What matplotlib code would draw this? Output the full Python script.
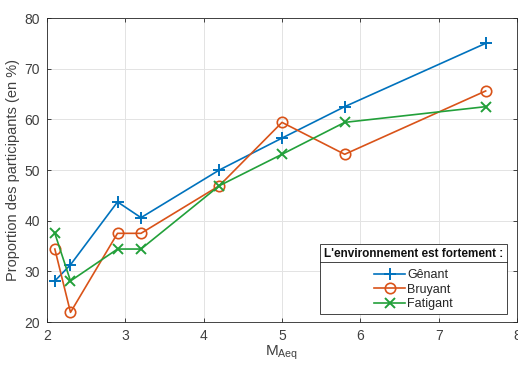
import matplotlib
matplotlib.use('Agg')
import matplotlib.pyplot as plt
from matplotlib.lines import Line2D

# ---- Data ----
x_aeq    = [2.1, 2.3, 2.9, 3.2, 4.2, 5.0, 5.8, 7.6]
genant   = [28.1, 31.3, 43.7, 40.6, 50.0, 56.3, 62.5, 75.0]
bruyant  = [34.4, 21.9, 37.5, 37.5, 46.9, 59.4, 53.1, 65.6]
fatigant = [37.5, 28.1, 34.4, 34.4, 46.9, 53.1, 59.4, 62.5]
labels   = ['Gênant', 'Bruyant', 'Fatigant']

plt.rcParams['font.family'] = ['Liberation Sans', 'DejaVu Sans']
plt.rcParams['mathtext.fontset'] = 'custom'
plt.rcParams['mathtext.rm'] = 'Liberation Sans'

fig = plt.figure(figsize=(5.18, 3.65), dpi=100)
ax = fig.add_axes([47 / 518, 1 - 322 / 365, 470 / 518, 304 / 365])

c_blue, c_orange, c_green = '#0072BD', '#D95319', '#22A03A'
txt = '#404040'
ax.plot(x_aeq, genant, '-', color=c_blue, lw=1.2, marker='+', ms=9, mew=1.4,
        label=labels[0])
ax.plot(x_aeq, bruyant, '-', color=c_orange, lw=1.2, marker='o', ms=7.5,
        mfc='none', mew=1.2, label=labels[1])
ax.plot(x_aeq, fatigant, '-', color=c_green, lw=1.2, marker='x', ms=6.5,
        mew=1.4, label=labels[2])

ax.set_xlim(2, 8)
ax.set_ylim(20, 80)
ax.set_xticks(range(2, 9))
ax.set_yticks(range(20, 81, 10))
ax.grid(True, color='#e3e3e3', lw=0.7)
ax.set_axisbelow(True)
ax.tick_params(direction='in', top=True, right=True, length=3, width=0.6,
               labelsize=10, color='#262626', labelcolor=txt, pad=5)
for s in ax.spines.values():
    s.set_color('#262626')
    s.set_linewidth(0.6)

ax.set_ylabel('Proportion des participants (en %)', fontsize=10.5, color=txt,
              labelpad=3)
ax.set_xlabel(r'M$_{\mathrm{Aeq}}$', fontsize=11, color=txt, labelpad=0.5)

leg = ax.legend(loc='lower right', bbox_to_anchor=(0.9785, 0.026),
                title="L'environnement est fortement :",
                title_fontproperties={'weight': 'bold', 'size': 8.5},
                fontsize=9, frameon=True, fancybox=False, edgecolor='#262626',
                framealpha=1, handlelength=2.5, handletextpad=0.15,
                labelspacing=0.2, borderpad=0.3, borderaxespad=0)
leg.get_frame().set_linewidth(0.6)
leg.get_title().set_color('#111111')
for t in leg.get_texts():
    t.set_color('#262626')
leg._legend_box.align = 'center'
leg._legend_box.sep = 7

# separator line under the legend title
fig.canvas.draw()
inv = fig.transFigure.inverted()
fb = leg.get_frame().get_window_extent()
tb = leg.get_title().get_window_extent()
y_sep = tb.y0 - 2
(x0, y0), (x1, _) = inv.transform([(fb.x0, y_sep), (fb.x1, y_sep)])
fig.add_artist(Line2D([x0, x1], [y0, y0], transform=fig.transFigure,
                      color='#262626', lw=0.6, zorder=10))

fig.savefig('out.png', dpi=100)
